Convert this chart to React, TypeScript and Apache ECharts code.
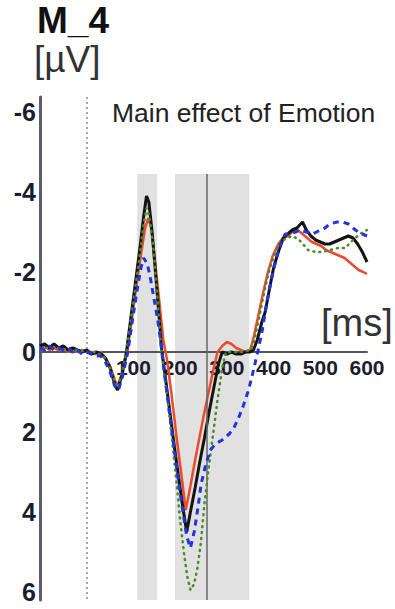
import React, { useEffect, useRef } from "react";
import * as echarts from "echarts";

// ERP waveforms at electrode cluster M_4, time in ms, amplitude in µV (negative up)
const blackT = [-100, -90, -80, -70, -60, -50, -40, -30, -20, -10, 0, 10, 20, 30, 40, 50, 60, 66, 75, 85, 95, 105, 115, 122, 128, 133, 140, 150, 160, 168, 178, 188, 198, 206, 214, 222, 232, 242, 252, 262, 272, 282, 290, 300, 310, 320, 330, 340, 350, 357, 365, 375, 382, 390, 400, 410, 421, 430, 440, 450, 462, 470, 480, 490, 500, 510, 520, 530, 540, 550, 560, 570, 580, 590, 600];
const blackV = [-0.15, -0.2, -0.1, -0.2, -0.1, -0.15, -0.05, -0.1, -0.05, 0, -0.05, 0.05, 0, 0.05, 0.15, 0.4, 0.8, 0.95, 0.6, 0, -0.9, -1.8, -2.7, -3.4, -3.9, -3.75, -3.0, -1.6, -0.1, 0.6, 1.5, 2.4, 3.25, 3.9, 4.5, 4.0, 3.4, 2.75, 2.15, 1.5, 0.9, 0.3, 0, 0.05, 0, 0.05, 0.05, 0, 0, -0.05, -0.3, -0.75, -1.0, -1.5, -2.1, -2.5, -2.85, -2.95, -3.05, -3.1, -3.25, -3.05, -2.9, -2.8, -2.75, -2.7, -2.7, -2.75, -2.8, -2.85, -2.9, -2.85, -2.7, -2.5, -2.25];

const redT = [-100, -90, -80, -70, -60, -50, -40, -30, -20, -10, 0, 10, 20, 30, 40, 50, 60, 66, 75, 87, 97, 107, 117, 125, 132, 138, 146, 156, 164, 172, 182, 192, 202, 212, 222, 232, 242, 252, 262, 271, 280, 290, 300, 310, 320, 330, 340, 350, 358, 368, 378, 388, 398, 410, 420, 430, 440, 452, 462, 472, 482, 492, 502, 512, 522, 532, 542, 552, 562, 572, 582, 592, 600];
const redV = [-0.05, -0.15, -0.05, -0.1, -0.05, -0.1, 0, -0.1, 0, -0.05, 0, 0, 0.05, 0, 0.15, 0.35, 0.7, 0.85, 0.55, 0, -0.85, -1.7, -2.5, -3.1, -3.35, -3.1, -2.3, -1.2, -0.3, 0.2, 1.1, 2.1, 3.0, 3.95, 3.35, 2.7, 2.1, 1.5, 0.95, 0.45, 0, -0.15, -0.25, -0.2, -0.1, -0.05, 0, -0.05, -0.4, -0.95, -1.5, -2.0, -2.4, -2.7, -2.85, -2.9, -3.0, -3.05, -2.95, -2.85, -2.75, -2.7, -2.65, -2.55, -2.5, -2.45, -2.4, -2.35, -2.25, -2.15, -2.05, -2.0, -1.95];

const blueT = [-100, -90, -80, -70, -60, -50, -40, -30, -20, -10, 0, 10, 20, 30, 40, 50, 60, 68, 77, 88, 98, 108, 116, 122, 130, 137, 143, 152, 158, 166, 176, 186, 196, 206, 214, 222, 230, 238, 245, 255, 265, 275, 290, 305, 315, 325, 335, 345, 352, 360, 368, 376, 385, 395, 405, 415, 425, 436, 447, 457, 470, 483, 492, 500, 510, 520, 536, 548, 560, 570, 581, 590, 600];
const blueV = [-0.1, -0.05, -0.15, -0.05, -0.1, -0.05, -0.1, 0, -0.05, 0.05, 0, 0.05, 0.1, 0.1, 0.25, 0.5, 0.85, 0.95, 0.6, 0, -0.8, -1.55, -2.1, -2.35, -2.2, -1.8, -1.4, -0.8, -0.3, 0.5, 1.4, 2.3, 3.2, 4.0, 4.6, 4.9, 4.5, 3.9, 3.3, 2.8, 2.45, 2.3, 2.2, 2.05, 1.9, 1.65, 1.35, 1.0, 0.7, 0.3, -0.1, -0.55, -1.2, -1.8, -2.3, -2.7, -2.95, -2.95, -3.0, -3.05, -3.0, -2.95, -3.0, -3.05, -3.1, -3.2, -3.25, -3.25, -3.2, -3.1, -3.0, -2.95, -2.9];

const greenT = [-100, -80, -60, -40, -20, 0, 20, 40, 50, 60, 66, 75, 85, 95, 105, 115, 122, 128, 134, 142, 150, 160, 170, 180, 190, 200, 208, 215, 222, 230, 237, 244, 252, 260, 270, 280, 290, 298, 310, 330, 350, 358, 368, 380, 392, 404, 416, 428, 440, 455, 474, 490, 505, 520, 538, 553, 570, 585, 600];
const greenV = [-0.1, -0.1, -0.1, -0.05, -0.05, 0, 0, 0.15, 0.4, 0.75, 0.9, 0.55, 0, -0.85, -1.7, -2.55, -3.2, -3.6, -3.4, -2.7, -1.6, 0, 0.9, 1.9, 3.0, 4.2, 5.0, 5.6, 5.95, 5.8, 5.4, 4.8, 3.8, 3.0, 2.1, 1.2, 0.4, 0, 0, 0, -0.05, -0.25, -0.8, -1.5, -2.1, -2.5, -2.75, -2.85, -2.9, -2.8, -2.55, -2.5, -2.5, -2.55, -2.6, -2.6, -2.8, -2.95, -3.05];

// Analysis windows and markers (ms)
const windowsMs = [[108, 151], [189, 348]];
const stimulusOnset = 0;
const windowMarker = 256;

const xTickLabels = [100, 200, 300, 400, 500, 600];
const yTickLabels = [-6, -4, -2, 0, 2, 4, 6];

const pairs = (t: number[], v: number[]) => t.map((x, i) => [x, v[i]]);

export default function App() {
  const ref = useRef<HTMLDivElement>(null);

  useEffect(() => {
    if (!ref.current) return;
    const chart = echarts.init(ref.current, null, { renderer: "svg" });
    const font = "Liberation Sans, Arial, Helvetica, sans-serif";
    const yMin = -6.375;
    const yMax = 6.2;
    const yTop = -4.45;
    const top = 97;
    const pxPerUv = 40;
    // the time axis sits on the 0 µV line: a second grid ends exactly there
    const zeroY = top + -yMin * pxPerUv;

    chart.setOption({
      animation: false,
      backgroundColor: "#ffffff",
      grid: [
        { left: 40, right: 28, top, bottom: 9, containLabel: false, outerBoundsMode: "none" },
        { left: 40, right: 28, top, height: zeroY - top, containLabel: false, outerBoundsMode: "none" },
      ],
      xAxis: [
        {
          type: "value",
          gridIndex: 0,
          min: -100,
          max: 600,
          show: false,
        },
        {
          type: "value",
          gridIndex: 1,
          min: -100,
          max: 600,
          position: "bottom",
          z: 2,
          axisLine: { show: true, onZero: false, lineStyle: { color: "#555560", width: 2 } },
          axisTick: { show: false },
          splitLine: { show: false },
          axisLabel: {
            customValues: xTickLabels,
            margin: 5,
            fontFamily: font,
            fontSize: 21,
            fontWeight: "bold",
            color: "#1c1c2c",
          },
        },
      ],
      yAxis: [
        {
          type: "value",
          gridIndex: 0,
          inverse: true,
          min: yMin,
          max: yMax,
          z: 2,
          axisLine: { show: true, onZero: false, lineStyle: { color: "#5c5c70", width: 3 } },
          axisTick: { show: false },
          splitLine: { show: false },
          axisLabel: {
            customValues: yTickLabels,
            margin: 4,
            fontFamily: font,
            fontSize: 25,
            fontWeight: "bold",
            color: "#1c1c30",
          },
        },
        { type: "value", gridIndex: 1, min: 0, max: 1, show: false },
      ],
      graphic: [
        {
          type: "text",
          left: 37,
          top: 2,
          style: { text: "M_4", font: `bold 37px ${font}`, fill: "#111111" },
        },
        {
          type: "text",
          left: 34,
          top: 41,
          style: { text: "[µV]", font: `37px ${font}`, fill: "#333333" },
        },
        {
          type: "text",
          left: 112,
          top: 99,
          style: { text: "Main effect of Emotion", font: `26.5px ${font}`, fill: "#222222" },
        },
        {
          type: "text",
          left: 321,
          top: 304,
          style: { text: "[ms]", font: `38px ${font}`, fill: "#333333" },
        },
      ],
      series: [
        {
          type: "line",
          data: [],
          silent: true,
          z: 0,
          markArea: {
            silent: true,
            itemStyle: { color: "#e1e1e1" },
            data: windowsMs.map(([a, b]) => [
              { xAxis: a, yAxis: yTop },
              { xAxis: b, yAxis: yMax },
            ]),
          },
          markLine: {
            silent: true,
            symbol: ["none", "none"],
            label: { show: false },
            data: [
              [
                { coord: [stimulusOnset, yMin], lineStyle: { color: "#8a8a8a", width: 1.5, type: [2, 3] } },
                { coord: [stimulusOnset, yMax] },
              ],
              [
                { coord: [windowMarker, yTop], lineStyle: { color: "#666666", width: 1.5, type: "solid" } },
                { coord: [windowMarker, yMax] },
              ],
            ],
          },
        },
        {
          name: "red",
          type: "line",
          data: pairs(redT, redV),
          showSymbol: false,
          z: 3,
          lineStyle: { color: "#ec4a2c", width: 2.5 },
        },
        {
          name: "black",
          type: "line",
          data: pairs(blackT, blackV),
          showSymbol: false,
          z: 4,
          lineStyle: { color: "#141414", width: 3 },
        },
        {
          name: "green",
          type: "line",
          data: pairs(greenT, greenV),
          showSymbol: false,
          z: 5,
          lineStyle: { color: "#4c8a30", width: 2.5, type: [1, 5], cap: "round" },
        },
        {
          name: "blue",
          type: "line",
          data: pairs(blueT, blueV),
          showSymbol: false,
          z: 6,
          lineStyle: { color: "#2233e0", width: 3, type: [6, 5] },
        },
      ],
    });
    return () => chart.dispose();
  }, []);

  return (
    <div
      ref={ref}
      style={{ position: "fixed", left: 0, top: 0, width: 395, height: 609, background: "#fff" }}
    />
  );
}
